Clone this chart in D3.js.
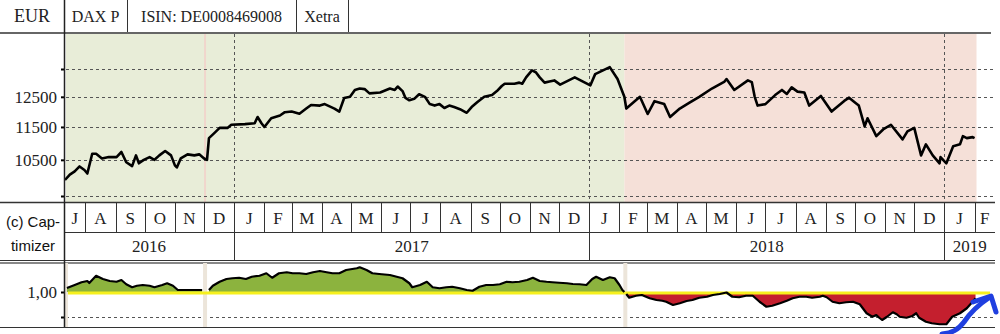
<!DOCTYPE html>
<html><head><meta charset="utf-8">
<script src="https://cdn.jsdelivr.net/npm/d3@7"></script>
<style>body{margin:0;background:#fff;} svg{display:block;}</style>
</head><body><svg id="c" width="1000" height="334"></svg>
<script>
// ---------------- DATA ----------------
const headerCells = ["EUR", "DAX P", "ISIN: DE0008469008", "Xetra"];
const leftLabel = ["(c) Cap-", "timizer"];
const yTickValues = [9500, 10500, 11500, 12500, 13500];
const yLabeledTicks = [10500, 11500, 12500];
const capTickValues = [0.9, 1.0];
const capLabeledTicks = [1.0];
const monthLetters = ["J","F","M","A","M","J","J","A","S","O","N","D"];
const yearLabels = ["2016", "2017", "2018", "2019"];
const axisStart = "2016-07-10", axisEnd = "2019-02-22";
// background phases (green = rising phase, red = falling phase)
const phaseStarts = ["2016-07-12", "2018-02-06"];
const phaseEnds   = ["2018-02-06", "2019-02-03"];
const phaseKinds  = ["up", "down"];
const breakDates = ["2016-07-12", "2016-12-02", "2018-02-07"];

const price = [
 ["2016-07-11",9930],["2016-07-16",10080],["2016-07-21",10170],["2016-07-26",10310],["2016-07-31",10210],
 ["2016-08-03",10110],["2016-08-08",10680],["2016-08-12",10680],["2016-08-18",10540],["2016-08-25",10580],
 ["2016-09-02",10580],["2016-09-07",10730],["2016-09-12",10430],["2016-09-18",10320],["2016-09-22",10630],
 ["2016-09-25",10400],["2016-09-30",10500],["2016-10-06",10580],["2016-10-11",10500],["2016-10-16",10630],
 ["2016-10-22",10760],["2016-10-28",10630],["2016-11-01",10340],["2016-11-03",10280],["2016-11-07",10540],
 ["2016-11-14",10660],["2016-11-21",10630],["2016-11-26",10660],["2016-12-01",10540],["2016-12-04",10500],
 ["2016-12-06",11150],["2016-12-12",11320],["2016-12-17",11470],["2016-12-25",11470],["2016-12-29",11570],
 ["2017-01-12",11590],["2017-01-22",11620],["2017-01-25",11820],["2017-01-29",11620],["2017-02-01",11500],
 ["2017-02-08",11780],["2017-02-17",11870],["2017-02-22",11980],["2017-03-01",12000],["2017-03-09",11930],
 ["2017-03-16",12100],["2017-03-21",12220],["2017-03-30",12200],["2017-04-04",12250],["2017-04-14",12100],
 ["2017-04-19",12000],["2017-04-24",12460],["2017-04-30",12500],["2017-05-05",12740],["2017-05-10",12790],
 ["2017-05-15",12770],["2017-05-20",12620],["2017-05-31",12650],["2017-06-10",12790],["2017-06-15",12740],
 ["2017-06-18",12860],["2017-06-23",12700],["2017-06-26",12460],["2017-06-30",12380],["2017-07-05",12430],
 ["2017-07-10",12590],["2017-07-16",12500],["2017-07-21",12250],["2017-07-26",12200],["2017-07-31",12250],
 ["2017-08-05",12120],["2017-08-10",12200],["2017-08-15",12150],["2017-08-21",12080],["2017-08-28",11960],
 ["2017-09-02",12150],["2017-09-08",12320],["2017-09-15",12500],["2017-09-23",12560],["2017-09-28",12700],
 ["2017-10-03",12880],["2017-10-06",12960],["2017-10-16",12960],["2017-10-21",13000],["2017-10-24",12960],
 ["2017-10-28",13190],["2017-11-03",13450],["2017-11-07",13380],["2017-11-11",13190],["2017-11-16",13000],
 ["2017-11-21",13040],["2017-11-26",13080],["2017-12-02",12930],["2017-12-17",13190],["2018-01-02",12900],
 ["2018-01-07",13310],["2018-01-22",13570],["2018-01-30",13130],["2018-02-06",12500],["2018-02-08",12100],
 ["2018-02-22",12500],["2018-03-02",11920],["2018-03-09",12350],["2018-03-19",12250],["2018-03-25",11820],
 ["2018-04-04",12100],["2018-04-14",12300],["2018-04-24",12500],["2018-05-07",12790],["2018-05-20",13040],
 ["2018-05-22",13130],["2018-05-30",12740],["2018-06-13",13080],["2018-06-17",13020],["2018-06-20",12500],
 ["2018-06-23",12200],["2018-07-01",12250],["2018-07-11",12560],["2018-07-18",12740],["2018-07-23",12600],
 ["2018-07-28",12830],["2018-08-03",12680],["2018-08-10",12650],["2018-08-15",12200],["2018-08-27",12530],
 ["2018-09-07",12000],["2018-09-20",12360],["2018-09-25",12470],["2018-10-02",12280],["2018-10-05",12200],
 ["2018-10-11",11520],["2018-10-14",11780],["2018-10-23",11210],["2018-10-30",11420],["2018-11-07",11570],
 ["2018-11-19",11110],["2018-11-24",11360],["2018-12-01",11470],["2018-12-08",10630],["2018-12-13",10960],
 ["2018-12-20",10630],["2018-12-27",10400],["2018-12-28",10580],["2019-01-03",10400],["2019-01-10",10900],
 ["2019-01-17",10960],["2019-01-20",11210],["2019-01-24",11150],["2019-01-30",11180],["2019-02-01",11150]
];

const capSeg1 = [
 ["2016-07-13",1.016],["2016-07-21",1.028],["2016-07-28",1.039],["2016-08-03",1.044],["2016-08-05",1.036],
 ["2016-08-12",1.065],["2016-08-19",1.052],["2016-08-26",1.044],["2016-09-02",1.041],["2016-09-07",1.048],
 ["2016-09-12",1.031],["2016-09-18",1.019],["2016-09-23",1.025],["2016-09-29",1.028],["2016-10-06",1.025],
 ["2016-10-11",1.019],["2016-10-19",1.028],["2016-10-24",1.035],["2016-10-30",1.025],["2016-11-04",1.008],
 ["2016-11-29",1.008]
];
const capSeg2 = [
 ["2016-12-06",1.008],["2016-12-10",1.025],["2016-12-17",1.041],["2016-12-24",1.052],["2016-12-30",1.055],
 ["2017-01-06",1.057],["2017-01-13",1.052],["2017-01-19",1.061],["2017-01-27",1.065],["2017-02-03",1.075],
 ["2017-02-09",1.057],["2017-02-16",1.075],["2017-02-24",1.079],["2017-03-02",1.075],["2017-03-09",1.075],
 ["2017-03-16",1.072],["2017-03-23",1.079],["2017-03-30",1.084],["2017-04-06",1.079],["2017-04-12",1.075],
 ["2017-04-19",1.075],["2017-04-26",1.088],["2017-05-07",1.095],["2017-05-10",1.099],["2017-05-17",1.088],
 ["2017-05-23",1.075],["2017-05-30",1.072],["2017-06-10",1.068],["2017-06-17",1.061],["2017-06-23",1.055],
 ["2017-06-30",1.035],["2017-07-03",1.019],["2017-07-11",1.028],["2017-07-18",1.041],["2017-07-24",1.019],
 ["2017-07-31",1.015],["2017-08-07",1.019],["2017-08-13",1.021],["2017-08-21",1.015],["2017-08-28",1.008],
 ["2017-09-03",1.005],["2017-09-10",1.021],["2017-09-17",1.028],["2017-09-24",1.028],["2017-10-01",1.031],
 ["2017-10-08",1.041],["2017-10-14",1.039],["2017-10-21",1.041],["2017-10-29",1.048],["2017-11-04",1.057],
 ["2017-11-11",1.044],["2017-11-18",1.041],["2017-11-24",1.039],["2017-12-01",1.037],["2017-12-09",1.035],
 ["2017-12-15",1.032],["2017-12-22",1.031],["2017-12-29",1.028],["2018-01-04",1.052],["2018-01-08",1.061],
 ["2018-01-15",1.048],["2018-01-22",1.059],["2018-01-27",1.055],["2018-02-01",1.028],["2018-02-04",1.008],
 ["2018-02-06",1.0]
];
const capSeg3 = [
 ["2018-02-08",0.992],["2018-02-11",0.977],["2018-02-18",0.985],["2018-02-24",0.988],["2018-03-04",0.975],
 ["2018-03-11",0.968],["2018-03-17",0.965],["2018-03-21",0.961],["2018-03-28",0.948],["2018-04-04",0.955],
 ["2018-04-11",0.964],["2018-04-17",0.968],["2018-04-24",0.977],["2018-05-02",0.981],["2018-05-08",0.988],
 ["2018-05-15",0.992],["2018-05-22",0.998],["2018-05-28",0.981],["2018-06-04",0.979],["2018-06-11",0.985],
 ["2018-06-18",0.985],["2018-06-25",0.961],["2018-07-02",0.941],["2018-07-08",0.945],["2018-07-16",0.955],
 ["2018-07-23",0.965],["2018-07-29",0.975],["2018-08-05",0.981],["2018-08-12",0.981],["2018-08-18",0.977],
 ["2018-08-26",0.981],["2018-08-29",0.985],["2018-09-02",0.979],["2018-09-08",0.961],["2018-09-15",0.955],
 ["2018-09-22",0.959],["2018-09-29",0.961],["2018-10-06",0.951],["2018-10-13",0.915],["2018-10-19",0.901],
 ["2018-10-23",0.908],["2018-10-26",0.897],["2018-10-29",0.888],["2018-11-03",0.901],["2018-11-09",0.919],
 ["2018-11-13",0.911],["2018-11-16",0.901],["2018-11-23",0.897],["2018-11-29",0.904],["2018-12-03",0.915],
 ["2018-12-06",0.897],["2018-12-13",0.881],["2018-12-19",0.875],["2018-12-27",0.871],["2019-01-03",0.871],
 ["2019-01-09",0.901],["2019-01-17",0.915],["2019-01-24",0.935],["2019-01-30",0.961],["2019-02-02",0.975]
];

// ---------------- SETUP ----------------
const P = d3.timeParse("%Y-%m-%d");
const svg = d3.select("#c");
const SERIF = "'Liberation Serif', 'Times New Roman', serif";
const SANS = "'Liberation Sans', Arial, sans-serif";
const L = 64, R = 995;
const mainTop = 34, mainBot = 202;
const monthTop = 202, monthBot = 232, yearBot = 260;
const capTop = 263, capBot = 327;

const x = d3.scaleTime().domain([P(axisStart), P(axisEnd)]).range([L, R]);
const y = d3.scaleLog().domain([9500, 13500]).range([196, 69]);
const yc = d3.scaleLinear().domain([0.9, 1.0]).range([317, 292]);

const phaseColor = {up: "#e8edd8", down: "#f5e0d8"};
const capColor = {up: "#8cb33e", down: "#c41f2e"};

// ---------------- MAIN PANEL ----------------
const gMain = svg.append("g");
phaseStarts.forEach((s, i) => {
  gMain.append("rect")
    .attr("x", x(P(s))).attr("y", mainTop)
    .attr("width", x(P(phaseEnds[i])) - x(P(s)))
    .attr("height", mainBot - mainTop)
    .attr("fill", phaseColor[phaseKinds[i]]);
});
gMain.append("line")
  .attr("x1", x(P(breakDates[1]))).attr("x2", x(P(breakDates[1])))
  .attr("y1", mainTop).attr("y2", mainBot)
  .attr("stroke", "#f0d6cc").attr("stroke-width", 2);

gMain.selectAll(".hg").data(yTickValues).enter().append("line")
  .attr("x1", 66).attr("x2", R)
  .attr("y1", d => Math.round(y(d)) + 0.5).attr("y2", d => Math.round(y(d)) + 0.5)
  .attr("stroke", "#555").attr("stroke-dasharray", "3,3").attr("stroke-width", 1);
const yearStarts = d3.timeYears(x.domain()[0], x.domain()[1]);
gMain.selectAll(".vg").data(yearStarts).enter().append("line")
  .attr("x1", d => Math.round(x(d)) + 0.5).attr("x2", d => Math.round(x(d)) + 0.5)
  .attr("y1", mainTop).attr("y2", mainBot)
  .attr("stroke", "#555").attr("stroke-dasharray", "3,3").attr("stroke-width", 1);

gMain.append("path")
  .datum(price)
  .attr("d", d3.line().x(d => x(P(d[0]))).y(d => y(d[1])))
  .attr("fill", "none").attr("stroke", "#000").attr("stroke-width", 2.6)
  .attr("stroke-linejoin", "round");

const yAxis = d3.axisLeft(y).tickValues(yTickValues).tickSize(3).tickPadding(4)
  .tickFormat(d => yLabeledTicks.includes(d) ? String(d) : "");
const gy = svg.append("g").attr("transform", `translate(${L},0)`).call(yAxis);
gy.select(".domain").remove();
gy.selectAll(".tick line").attr("stroke", "#000").attr("stroke-width", 2);
gy.selectAll(".tick text").attr("font-family", SERIF).attr("font-size", 17).attr("fill", "#222").attr("x", -7);

// ---------------- HEADER ----------------
const headerX = [0, 64, 127, 296, 348];
headerCells.forEach((t, i) => {
  svg.append("text").attr("x", (headerX[i] + headerX[i + 1]) / 2).attr("y", 22)
    .attr("text-anchor", "middle").attr("font-family", SERIF)
    .attr("font-size", i === 0 ? 18 : 16).attr("fill", "#222").text(t);
});
headerX.slice(1).forEach(hx => {
  svg.append("line").attr("x1", hx + 0.5).attr("x2", hx + 0.5).attr("y1", 0).attr("y2", 33)
    .attr("stroke", "#333");
});
svg.append("line").attr("x1", 0).attr("x2", 991).attr("y1", 33).attr("y2", 33)
  .attr("stroke", "#666").attr("stroke-width", 2);

// ---------------- MONTH / YEAR ROWS ----------------
const gAx = svg.append("g");
gAx.append("line").attr("x1", 0).attr("x2", R).attr("y1", monthTop + 0.5).attr("y2", monthTop + 0.5).attr("stroke", "#333").attr("stroke-width", 1.5);
gAx.append("line").attr("x1", L).attr("x2", R).attr("y1", monthBot + 0.5).attr("y2", monthBot + 0.5).attr("stroke", "#333");
gAx.append("line").attr("x1", 0).attr("x2", R).attr("y1", yearBot + 0.5).attr("y2", yearBot + 0.5).attr("stroke", "#333");
gAx.append("line").attr("x1", 0).attr("x2", R).attr("y1", yearBot + 3).attr("y2", yearBot + 3).attr("stroke", "#888").attr("stroke-width", 2);

const monthStarts = d3.timeMonths(d3.timeMonth.floor(x.domain()[0]), x.domain()[1]);
monthStarts.forEach(m => {
  const x0 = Math.max(L, x(m));
  const x1 = Math.min(R, x(d3.timeMonth.offset(m, 1)));
  if (x(m) > L) {
    gAx.append("line").attr("x1", Math.round(x0) + 0.5).attr("x2", Math.round(x0) + 0.5)
      .attr("y1", monthTop).attr("y2", monthBot).attr("stroke", "#333");
  }
  gAx.append("text").attr("x", (x0 + x1) / 2).attr("y", 224)
    .attr("text-anchor", "middle").attr("font-family", SERIF).attr("font-size", 17)
    .attr("fill", "#222").text(monthLetters[m.getMonth()]);
});
const yearsAll = [d3.timeYear.floor(x.domain()[0])].concat(yearStarts);
yearsAll.forEach((yy, i) => {
  const x0 = Math.max(L, x(yy));
  const x1 = Math.min(R, x(d3.timeYear.offset(yy, 1)));
  if (x(yy) > L) {
    gAx.append("line").attr("x1", Math.round(x0) + 0.5).attr("x2", Math.round(x0) + 0.5)
      .attr("y1", monthBot).attr("y2", yearBot).attr("stroke", "#333");
  }
  gAx.append("text").attr("x", (x0 + x1) / 2).attr("y", 252)
    .attr("text-anchor", "middle").attr("font-family", SERIF).attr("font-size", 17)
    .attr("fill", "#222").text(yearLabels[i]);
});
leftLabel.forEach((t, i) => {
  gAx.append("text").attr("x", 33).attr("y", 227 + i * 24).attr("text-anchor", "middle")
    .attr("font-family", SANS).attr("font-size", 15).attr("fill", "#111").text(t);
});

// ---------------- CAPTIMIZER PANEL ----------------
const gCap = svg.append("g");
gCap.append("line").attr("x1", 66).attr("x2", R)
  .attr("y1", Math.round(yc(0.9)) + 0.5).attr("y2", Math.round(yc(0.9)) + 0.5)
  .attr("stroke", "#555").attr("stroke-dasharray", "3,3");
breakDates.forEach(b => {
  gCap.append("rect").attr("x", x(P(b)) - 2).attr("y", capTop).attr("width", 4).attr("height", capBot - capTop)
    .attr("fill", "#ece5da");
});
const segs = [[capSeg1, "up"], [capSeg2, "up"], [capSeg3, "down"]];
const area = d3.area().x(d => x(P(d[0]))).y0(yc(1.0)).y1(d => yc(d[1]));
segs.forEach(([s, k]) => {
  gCap.append("path").datum(s).attr("d", area).attr("fill", capColor[k]);
});
gCap.append("line").attr("x1", 68).attr("x2", 990).attr("y1", yc(1.0) + 1).attr("y2", yc(1.0) + 1)
  .attr("stroke", "#f6f01e").attr("stroke-width", 3);
const cline = d3.line().x(d => x(P(d[0]))).y(d => yc(d[1]));
segs.forEach(([s]) => {
  gCap.append("path").datum(s).attr("d", cline).attr("fill", "none")
    .attr("stroke", "#000").attr("stroke-width", 2.2).attr("stroke-linejoin", "round");
});
const cAxis = d3.axisLeft(yc).tickValues(capTickValues).tickSize(3).tickPadding(4)
  .tickFormat(d => capLabeledTicks.includes(d) ? d3.format(".2f")(d).replace(".", ",") : "");
const gcy = svg.append("g").attr("transform", `translate(${L},0)`).call(cAxis);
gcy.select(".domain").remove();
gcy.selectAll(".tick line").attr("stroke", "#000").attr("stroke-width", 2);
gcy.selectAll(".tick text").attr("font-family", SERIF).attr("font-size", 17).attr("fill", "#222").attr("x", -7);
gCap.append("line").attr("x1", 0).attr("x2", R).attr("y1", capBot + 0.5).attr("y2", capBot + 0.5).attr("stroke", "#333");

svg.append("line").attr("x1", L + 0.5).attr("x2", L + 0.5).attr("y1", 0).attr("y2", capBot)
  .attr("stroke", "#222").attr("stroke-width", 1.5);

// blue hand-drawn arrow annotation
svg.append("path")
  .attr("d", "M942,334 C952,333 958,330 964,322 C970,313 978,305 990,297")
  .attr("fill", "none").attr("stroke", "#1f3fe0").attr("stroke-width", 5).attr("stroke-linecap", "round");
svg.append("path")
  .attr("d", "M973,302 L991,296 L996,312")
  .attr("fill", "none").attr("stroke", "#1f3fe0").attr("stroke-width", 5)
  .attr("stroke-linecap", "round").attr("stroke-linejoin", "round");
</script></body></html>
